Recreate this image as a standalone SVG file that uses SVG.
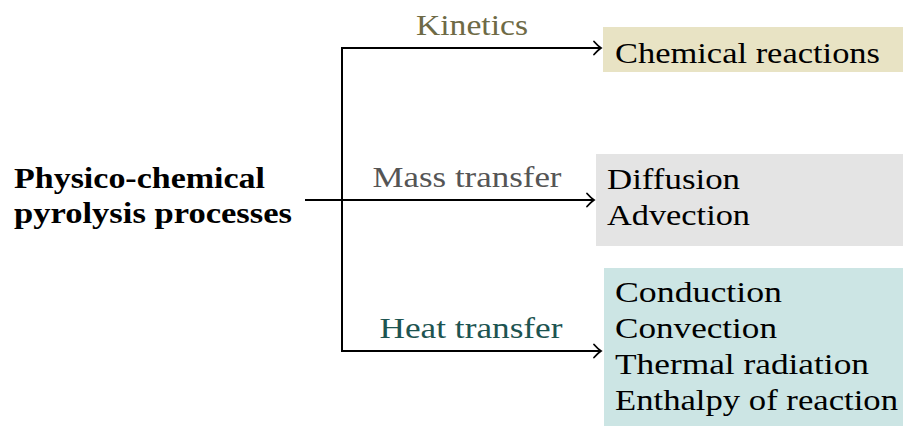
<svg xmlns="http://www.w3.org/2000/svg" width="905" height="429" viewBox="0 0 905 429">
<style>
text{font-family:"Liberation Serif","DejaVu Serif",serif;font-size:30px;fill:#000}
.b{font-weight:bold}
.lbl{text-anchor:middle}
.conn{fill:none;stroke:#000;stroke-width:2}
</style>
<defs>
<marker id="arr" markerUnits="userSpaceOnUse" markerWidth="12" markerHeight="16" refX="10" refY="8" orient="auto" overflow="visible">
<path d="M3,1.5 Q7,6 10,8 Q7,10 3,14.5" fill="none" stroke="#000" stroke-width="1.8" stroke-linecap="round"/>
</marker>
</defs>
<rect width="905" height="429" fill="#fff"/>
<g id="connectors">
<path class="conn" d="M305,200 H594" marker-end="url(#arr)"/>
<path class="conn" d="M601,48 H342 V351 H601"/>
<path class="conn" d="M342,48 H601" marker-end="url(#arr)"/>
<path class="conn" d="M342,351 H601" marker-end="url(#arr)"/>
<text class="lbl" x="472" y="35" fill="#6e6a45" style="fill:#6e6a45" textLength="112" lengthAdjust="spacingAndGlyphs">Kinetics</text>
<text class="lbl" x="467" y="187" style="fill:#555555" textLength="189" lengthAdjust="spacingAndGlyphs">Mass transfer</text>
<text class="lbl" x="471" y="338" style="fill:#1d5451" textLength="183" lengthAdjust="spacingAndGlyphs">Heat transfer</text>
</g>
<g id="source">
<text class="b" x="14" y="188" textLength="251" lengthAdjust="spacingAndGlyphs">Physico-chemical</text>
<text class="b" x="14" y="223" textLength="278" lengthAdjust="spacingAndGlyphs">pyrolysis processes</text>
</g>
<g id="kinetics-node">
<rect x="603" y="27" width="300" height="45" fill="#e8e3c4"/>
<text x="615" y="63" textLength="265" lengthAdjust="spacingAndGlyphs">Chemical reactions</text>
</g>
<g id="mass-node">
<rect x="596" y="154" width="307" height="92" fill="#e4e4e4"/>
<text x="607" y="189" textLength="133" lengthAdjust="spacingAndGlyphs">Diffusion</text>
<text x="607" y="225" textLength="143" lengthAdjust="spacingAndGlyphs">Advection</text>
</g>
<g id="heat-node">
<rect x="604" y="268" width="299" height="158" fill="#cce5e4"/>
<text x="615" y="302" textLength="167" lengthAdjust="spacingAndGlyphs">Conduction</text>
<text x="615" y="338" textLength="162" lengthAdjust="spacingAndGlyphs">Convection</text>
<text x="615" y="374" textLength="254" lengthAdjust="spacingAndGlyphs">Thermal radiation</text>
<text x="615" y="410" textLength="283" lengthAdjust="spacingAndGlyphs">Enthalpy of reaction</text>
</g>
</svg>
